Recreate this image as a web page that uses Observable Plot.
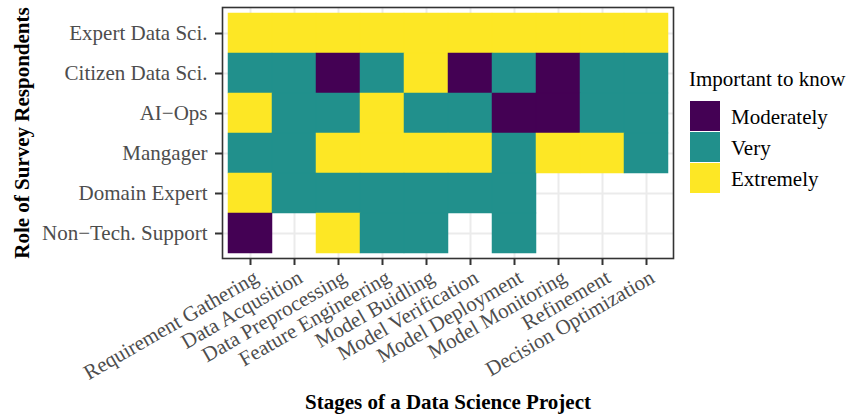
<!DOCTYPE html>
<html>
<head>
<meta charset="utf-8">
<script src="https://cdn.jsdelivr.net/npm/d3@7"></script>
<script src="https://cdn.jsdelivr.net/npm/@observablehq/plot@0.6"></script>
<style>
  html, body { margin: 0; padding: 0; background: white; }
  #wrap { position: relative; width: 849px; height: 416px; overflow: hidden; }
  #wrap svg { position: absolute; left: 0; top: 0; }
  g[aria-label="x-axis tick"], g[aria-label="x-axis tick"] path,
  g[aria-label="y-axis tick"], g[aria-label="y-axis tick"] path { stroke: #333333; stroke-width: 2px; }
  g[aria-label="y-axis tick label"] { fill: #4D4D4D; }
  #legend { position: absolute; left: 689px; top: 69px; font-family: "Liberation Serif", serif; font-size: 21px; color: #000; }
  #legend .ttl { line-height: 21px; height: 21px; margin-bottom: 11px; white-space: nowrap; }
  #legend .row { display: flex; align-items: center; height: 31px; }
  #legend .sw { width: 30px; height: 30px; margin-left: 1px; margin-bottom: 1px; }
  #legend .lb { margin-left: 11px; line-height: 30px; white-space: nowrap; }
</style>
</head>
<body>
<div id="wrap"></div>
<script>
const stages = ["Requirement Gathering","Data Acqusition","Data Preprocessing","Feature Engineering","Model Buidling","Model Verification","Model Deployment","Model Monitoring","Refinement","Decision Optimization"];
const roles = ["Expert Data Sci.","Citizen Data Sci.","AI\u2212Ops","Mangager","Domain Expert","Non\u2212Tech. Support"];
const levels = ["Moderately","Very","Extremely"];
const levelColors = ["#440154","#21908C","#FDE725"];

// M = Moderately, V = Very, E = Extremely, null = no answer
const expertDataSci   = ["E","E","E","E","E","E","E","E","E","E"];
const citizenDataSci  = ["V","V","M","V","E","M","V","M","V","V"];
const aiOps           = ["E","V","V","E","V","V","M","M","V","V"];
const mangager        = ["V","V","E","E","E","E","V","E","E","V"];
const domainExpert    = ["E","V","V","V","V","V","V",null,null,null];
const nonTechSupport  = ["M",null,"E","V","V",null,"V",null,null,null];

const codes = {M: "Moderately", V: "Very", E: "Extremely"};
const rows = [expertDataSci, citizenDataSci, aiOps, mangager, domainExpert, nonTechSupport];
const data = [];
rows.forEach((vals, i) => vals.forEach((v, j) => {
  if (v) data.push({role: roles[i], stage: stages[j], level: codes[v]});
}));

const xTitle = "Stages of a Data Science Project";
const yTitle = "Role of Survey Respondents";

const chart = Plot.plot({
  width: 849,
  height: 416,
  marginLeft: 222,
  marginRight: 176,
  marginTop: 7,
  marginBottom: 158,
  style: {fontFamily: "Liberation Serif, serif", background: "white", overflow: "visible"},
  x: {domain: stages, paddingInner: 0, paddingOuter: 0.1, align: 0.5},
  y: {domain: roles, paddingInner: 0, paddingOuter: 0.1, align: 0.5},
  color: {domain: levels, range: levelColors, legend: false},
  marks: [
    Plot.gridX({stroke: "#EBEBEB", strokeOpacity: 1, strokeWidth: 2}),
    Plot.gridY({stroke: "#EBEBEB", strokeOpacity: 1, strokeWidth: 2}),
    Plot.cell(data, {x: "stage", y: "role", fill: "level", stroke: "level", strokeWidth: 0.5}),
    Plot.frame({stroke: "#333333", strokeWidth: 1.6}),
    Plot.axisX({tickSize: 7, tickFormat: () => "", label: null}),
    Plot.axisY({tickSize: 7, tickPadding: 8, fontSize: 21, label: null}),
    Plot.text(stages, {x: d => d, text: d => d, frameAnchor: "bottom", dy: 10, dx: 2,
      rotate: -30, textAnchor: "end", lineAnchor: "top", fontSize: 21, fill: "#4D4D4D"}),
    Plot.text([xTitle], {text: d => d, frameAnchor: "bottom", dy: 144, textAnchor: "middle", lineAnchor: "middle",
      fontSize: 21, fontWeight: "bold", fill: "black"}),
    Plot.text([yTitle], {text: d => d, frameAnchor: "left", dx: -200, rotate: -90, textAnchor: "middle", lineAnchor: "middle",
      fontSize: 21, fontWeight: "bold", fill: "black"})
  ]
});

const wrap = document.getElementById("wrap");
wrap.appendChild(chart);

const legend = document.createElement("div");
legend.id = "legend";
const ttl = document.createElement("div");
ttl.className = "ttl";
ttl.textContent = "Important to know";
legend.appendChild(ttl);
levels.forEach((lv, i) => {
  const r = document.createElement("div");
  r.className = "row";
  const sw = document.createElement("div");
  sw.className = "sw";
  sw.style.background = levelColors[i];
  const lb = document.createElement("div");
  lb.className = "lb";
  lb.textContent = lv;
  r.appendChild(sw);
  r.appendChild(lb);
  legend.appendChild(r);
});
wrap.appendChild(legend);
</script>
</body>
</html>
